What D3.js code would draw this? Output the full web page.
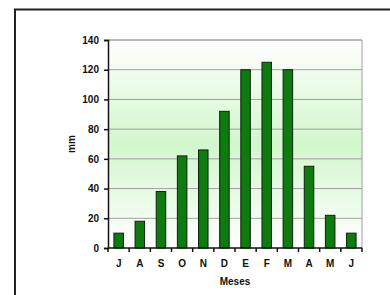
<!DOCTYPE html>
<html>
<head>
<meta charset="utf-8">
<script src="https://cdn.jsdelivr.net/npm/d3@7"></script>
<style>
body { margin: 0; background: #fff; }
svg { display: block; }
text { font-family: "Liberation Sans", Arial, sans-serif; font-weight: bold; }
</style>
</head>
<body>
<svg id="chart" width="390" height="295"></svg>
<script>
// monthly rainfall, July -> June
var months = ["J", "A", "S", "O", "N", "D", "E", "F", "M", "A", "M", "J"];
var rain = [10, 18, 38, 62, 66, 92, 120, 125, 120, 55, 22, 10];
var yTicks = [0, 20, 40, 60, 80, 100, 120, 140];

var margin = {top: 40, left: 108, right: 28, bottom: 47};
var width = 390 - margin.left - margin.right;
var height = 295 - margin.top - margin.bottom;

var svg = d3.select("#chart");

// outer frame (only top + left edges show)
svg.append("path")
  .attr("d", "M15,295 V9.5 H390")
  .attr("fill", "none")
  .attr("stroke", "#222")
  .attr("stroke-width", 2);

var defs = svg.append("defs");
var grad = defs.append("linearGradient")
  .attr("id", "bg")
  .attr("x1", 0).attr("y1", 0).attr("x2", 0).attr("y2", 1);
grad.append("stop").attr("offset", "0%").attr("stop-color", "#ffffff");
grad.append("stop").attr("offset", "50%").attr("stop-color", "#d2f6cd");
grad.append("stop").attr("offset", "100%").attr("stop-color", "#ffffff");

var g = svg.append("g").attr("transform", `translate(${margin.left},${margin.top})`);

var x = d3.scaleBand().domain(d3.range(months.length)).range([0, width]).paddingInner(0.55).paddingOuter(0.28);
var xb = d3.scaleLinear().domain([0, months.length]).range([0, width]);
var y = d3.scaleLinear().domain([0, 140]).range([height, 0]);

g.append("rect")
  .attr("width", width).attr("height", height)
  .attr("fill", "url(#bg)");

// gridlines
g.selectAll(".grid")
  .data(yTicks.filter(d => d > 0))
  .join("line")
  .attr("x1", 0).attr("x2", width)
  .attr("y1", d => y(d)).attr("y2", d => y(d))
  .attr("stroke", "#a0a0a0")
  .attr("stroke-width", d => d === 140 ? 1.5 : 1);

// right border
g.append("line")
  .attr("x1", width).attr("x2", width)
  .attr("y1", 0).attr("y2", height)
  .attr("stroke", "#a0a0a0");

g.selectAll(".bar")
  .data(rain)
  .join("rect")
  .attr("x", (d, i) => x(i))
  .attr("y", d => y(d))
  .attr("width", x.bandwidth())
  .attr("height", d => height - y(d))
  .attr("fill", "#0f7a0f")
  .attr("stroke", "#0a240a")
  .attr("stroke-width", 1);

// y axis
var yAxis = g.append("g")
  .call(d3.axisLeft(y).tickValues(yTicks).tickSize(4).tickPadding(5));
yAxis.select(".domain").attr("stroke", "#111").attr("stroke-width", 1.5);
yAxis.selectAll(".tick line").attr("stroke", "#111").attr("stroke-width", 1.5);
yAxis.selectAll("text").attr("font-size", 10).attr("fill", "#111");

// x axis: ticks at band boundaries
var xAxis = g.append("g").attr("transform", `translate(0,${height})`);
xAxis.append("line").attr("x1", 0).attr("x2", width).attr("stroke", "#111").attr("stroke-width", 1.5);
xAxis.selectAll(".xt")
  .data(d3.range(months.length + 1))
  .join("line")
  .attr("x1", d => xb(d)).attr("x2", d => xb(d))
  .attr("y1", 0).attr("y2", 4)
  .attr("stroke", "#111").attr("stroke-width", 1.5);
xAxis.selectAll(".xl")
  .data(months)
  .join("text")
  .attr("x", (d, i) => x(i) + x.bandwidth() / 2)
  .attr("y", 19)
  .attr("text-anchor", "middle")
  .attr("font-size", 10)
  .attr("fill", "#111")
  .text(d => d);

svg.append("text")
  .attr("x", margin.left + width / 2)
  .attr("y", 285)
  .attr("text-anchor", "middle")
  .attr("font-size", 10)
  .attr("fill", "#111")
  .text("Meses");

svg.append("text")
  .attr("transform", "translate(75,144) rotate(-90)")
  .attr("text-anchor", "middle")
  .attr("font-size", 10)
  .attr("fill", "#111")
  .text("mm");
</script>
</body>
</html>
